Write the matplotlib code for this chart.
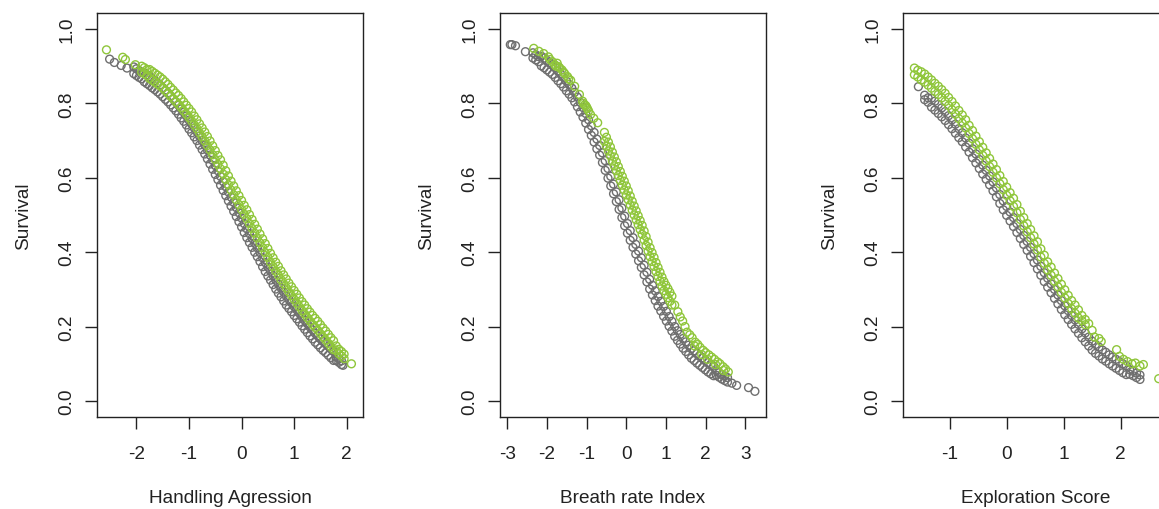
import matplotlib
matplotlib.use("Agg")
import matplotlib.pyplot as plt

plt.rcParams['font.family'] = ['Liberation Sans', 'DejaVu Sans']

# ---- Panel 1: Handling Agression ----
# gray band (top edge / bottom edge of the ribbon) + loose points
hand_gray_x = [-2.05, -2.00, -1.95, -1.90, -1.85, -1.80, -1.75, -1.70, -1.65, -1.60, -1.55, -1.50,
               -1.45, -1.40, -1.35, -1.30, -1.25, -1.20, -1.15, -1.10, -1.05, -1.00, -0.95, -0.90,
               -0.85, -0.80, -0.75, -0.70, -0.65, -0.60, -0.55, -0.50, -0.45, -0.40, -0.35, -0.30,
               -0.25, -0.20, -0.15, -0.10, -0.05, 0.00, 0.05, 0.10, 0.15, 0.20, 0.25, 0.30, 0.35,
               0.40, 0.45, 0.50, 0.55, 0.60, 0.65, 0.70, 0.75, 0.80, 0.85, 0.90, 0.95, 1.00, 1.05,
               1.10, 1.15, 1.20, 1.25, 1.30, 1.35, 1.40, 1.45, 1.50, 1.55, 1.60, 1.65, 1.70, 1.75,
               1.80, 1.85, 1.90]
hand_gray_top = [0.898, 0.893, 0.888, 0.884, 0.882, 0.877, 0.872, 0.866, 0.861, 0.855, 0.849, 0.842,
                 0.835, 0.828, 0.820, 0.812, 0.804, 0.795, 0.785, 0.776, 0.766, 0.755, 0.745, 0.734,
                 0.724, 0.712, 0.700, 0.688, 0.675, 0.661, 0.647, 0.633, 0.619, 0.604, 0.590, 0.576,
                 0.562, 0.548, 0.534, 0.520, 0.506, 0.492, 0.477, 0.463, 0.450, 0.437, 0.424, 0.412,
                 0.399, 0.385, 0.372, 0.360, 0.349, 0.337, 0.325, 0.314, 0.304, 0.293, 0.282, 0.273,
                 0.264, 0.254, 0.245, 0.236, 0.226, 0.217, 0.208, 0.199, 0.191, 0.182, 0.175, 0.167,
                 0.160, 0.154, 0.147, 0.140, 0.133, 0.119, 0.114, 0.108]
hand_gray_bot = [0.880, 0.875, 0.870, 0.866, 0.858, 0.853, 0.848, 0.842, 0.837, 0.831, 0.825, 0.818,
                 0.811, 0.804, 0.796, 0.788, 0.780, 0.771, 0.761, 0.752, 0.742, 0.731, 0.721, 0.710,
                 0.700, 0.688, 0.676, 0.664, 0.651, 0.637, 0.623, 0.609, 0.595, 0.580, 0.566, 0.552,
                 0.538, 0.524, 0.510, 0.496, 0.482, 0.468, 0.453, 0.439, 0.426, 0.413, 0.400, 0.388,
                 0.375, 0.361, 0.348, 0.336, 0.325, 0.313, 0.301, 0.290, 0.280, 0.269, 0.258, 0.249,
                 0.240, 0.230, 0.221, 0.212, 0.202, 0.193, 0.184, 0.175, 0.167, 0.158, 0.151, 0.143,
                 0.136, 0.130, 0.123, 0.116, 0.109, 0.109, 0.104, 0.098]
hand_gray_loose_x = [-2.51, -2.42, -2.29, -2.18, 1.93]
hand_gray_loose_y = [0.919, 0.910, 0.902, 0.895, 0.096]

hand_green_x = [-1.90, -1.85, -1.80, -1.75, -1.70, -1.65, -1.60, -1.55, -1.50, -1.45, -1.40, -1.35,
                -1.30, -1.25, -1.20, -1.15, -1.10, -1.05, -1.00, -0.95, -0.90, -0.85, -0.80, -0.75,
                -0.70, -0.65, -0.60, -0.55, -0.50, -0.45, -0.40, -0.35, -0.30, -0.25, -0.20, -0.15,
                -0.10, -0.05, 0.00, 0.05, 0.10, 0.15, 0.20, 0.25, 0.30, 0.35, 0.40, 0.45, 0.50, 0.55,
                0.60, 0.65, 0.70, 0.75, 0.80, 0.85, 0.90, 0.95, 1.00, 1.05, 1.10, 1.15, 1.20, 1.25,
                1.30, 1.35, 1.40, 1.45, 1.50, 1.55, 1.60, 1.65, 1.70, 1.75, 1.80, 1.85, 1.90, 1.95]
hand_green_top = [0.900, 0.896, 0.891, 0.891, 0.886, 0.881, 0.876, 0.871, 0.865, 0.858, 0.851, 0.843,
                  0.836, 0.828, 0.821, 0.813, 0.804, 0.795, 0.786, 0.777, 0.766, 0.756, 0.745, 0.734,
                  0.723, 0.711, 0.699, 0.686, 0.673, 0.660, 0.648, 0.634, 0.619, 0.605, 0.591, 0.578,
                  0.565, 0.552, 0.539, 0.526, 0.514, 0.501, 0.488, 0.475, 0.462, 0.449, 0.436, 0.423,
                  0.410, 0.397, 0.385, 0.373, 0.362, 0.350, 0.339, 0.328, 0.317, 0.307, 0.297, 0.287,
                  0.277, 0.267, 0.258, 0.248, 0.239, 0.230, 0.222, 0.214, 0.205, 0.196, 0.188, 0.179,
                  0.170, 0.162, 0.148, 0.139, 0.133, 0.126]
hand_green_bot = [0.884, 0.880, 0.875, 0.867, 0.862, 0.857, 0.852, 0.847, 0.841, 0.834, 0.827, 0.819,
                  0.812, 0.804, 0.797, 0.789, 0.780, 0.771, 0.762, 0.753, 0.742, 0.732, 0.721, 0.710,
                  0.699, 0.687, 0.675, 0.662, 0.649, 0.636, 0.624, 0.610, 0.595, 0.581, 0.567, 0.554,
                  0.541, 0.528, 0.515, 0.502, 0.490, 0.477, 0.464, 0.451, 0.438, 0.425, 0.412, 0.399,
                  0.386, 0.373, 0.361, 0.349, 0.338, 0.326, 0.315, 0.304, 0.293, 0.283, 0.273, 0.263,
                  0.253, 0.243, 0.234, 0.224, 0.215, 0.206, 0.198, 0.190, 0.181, 0.172, 0.164, 0.155,
                  0.146, 0.138, 0.136, 0.127, 0.121, 0.114]
hand_green_loose_x = [-2.57, -2.26, -2.21, -2.02, 2.09]
hand_green_loose_y = [0.944, 0.924, 0.918, 0.904, 0.100]

# ---- Panel 2: Breath rate Index ----
breath_gray_x = [-2.35, -2.28, -2.21, -2.14, -2.07, -2.00, -1.93, -1.86, -1.79, -1.72, -1.65, -1.58,
                 -1.51, -1.44, -1.37, -1.30, -1.23, -1.16, -1.09, -1.02, -0.95, -0.88, -0.81, -0.74,
                 -0.67, -0.60, -0.53, -0.46, -0.39, -0.32, -0.25, -0.18, -0.11, -0.04, 0.03, 0.10,
                 0.17, 0.24, 0.31, 0.38, 0.45, 0.52, 0.59, 0.66, 0.73, 0.80, 0.87, 0.94, 1.01, 1.08,
                 1.15, 1.22, 1.29, 1.36, 1.43, 1.50, 1.57, 1.64, 1.71, 1.78, 1.85, 1.92, 1.99, 2.06,
                 2.13, 2.20, 2.27, 2.34, 2.41, 2.48, 2.55]
breath_gray_top = [0.936, 0.931, 0.926, 0.927, 0.922, 0.916, 0.910, 0.904, 0.896, 0.887, 0.879, 0.870,
                   0.860, 0.851, 0.841, 0.830, 0.817, 0.803, 0.789, 0.773, 0.756, 0.740, 0.722, 0.704,
                   0.687, 0.667, 0.646, 0.625, 0.604, 0.583, 0.562, 0.541, 0.519, 0.497, 0.477, 0.458,
                   0.439, 0.421, 0.403, 0.385, 0.365, 0.346, 0.327, 0.311, 0.296, 0.281, 0.268, 0.254,
                   0.241, 0.227, 0.214, 0.200, 0.189, 0.179, 0.168, 0.159, 0.150, 0.141, 0.135, 0.128,
                   0.122, 0.116, 0.110, 0.104, 0.099, 0.094, 0.081, 0.076, 0.071, 0.067, 0.063]
breath_gray_bot = [0.922, 0.917, 0.912, 0.901, 0.896, 0.890, 0.884, 0.878, 0.870, 0.861, 0.853, 0.844,
                   0.834, 0.825, 0.815, 0.804, 0.791, 0.777, 0.763, 0.747, 0.730, 0.714, 0.696, 0.678,
                   0.661, 0.641, 0.620, 0.599, 0.578, 0.557, 0.536, 0.515, 0.493, 0.471, 0.451, 0.432,
                   0.413, 0.395, 0.377, 0.359, 0.339, 0.320, 0.301, 0.285, 0.270, 0.255, 0.242, 0.228,
                   0.215, 0.201, 0.188, 0.174, 0.163, 0.153, 0.142, 0.133, 0.124, 0.115, 0.109, 0.102,
                   0.096, 0.090, 0.084, 0.078, 0.073, 0.068, 0.069, 0.064, 0.059, 0.055, 0.051]
breath_gray_loose_x = [-2.92, -2.88, -2.79, -2.54, 2.66, 2.78, 3.08, 3.24]
breath_gray_loose_y = [0.958, 0.958, 0.955, 0.939, 0.048, 0.042, 0.036, 0.026]

breath_green_x = [-0.55, -0.50, -0.45, -0.40, -0.35, -0.30, -0.25, -0.20, -0.15, -0.10, -0.05, 0.00,
                  0.05, 0.10, 0.15, 0.20, 0.25, 0.30, 0.35, 0.40, 0.45, 0.50, 0.55, 0.60, 0.65, 0.70,
                  0.75, 0.80, 0.85, 0.90, 0.95, 1.00, 1.05, 1.10, 1.15]
breath_green_top = [0.722, 0.709, 0.696, 0.683, 0.669, 0.656, 0.643, 0.630, 0.617, 0.604, 0.591, 0.578,
                    0.565, 0.551, 0.537, 0.524, 0.511, 0.498, 0.485, 0.472, 0.457, 0.442, 0.427, 0.412,
                    0.399, 0.386, 0.372, 0.359, 0.346, 0.333, 0.321, 0.311, 0.302, 0.292, 0.282]
breath_green_bot = [0.698, 0.685, 0.672, 0.659, 0.645, 0.632, 0.619, 0.606, 0.593, 0.580, 0.567, 0.554,
                    0.541, 0.527, 0.513, 0.500, 0.487, 0.474, 0.461, 0.448, 0.433, 0.418, 0.403, 0.388,
                    0.375, 0.362, 0.348, 0.335, 0.322, 0.309, 0.297, 0.287, 0.278, 0.268, 0.258]
breath_green_loose_x = [-2.33, -2.20, -2.08, -1.96, -1.92, -1.86, -1.80, -1.77, -1.74, -1.71, -1.68,
                        -1.62, -1.58, -1.55, -1.48, -1.45, -1.40, -1.30, -1.18, -1.10, -1.08, -1.05,
                        -1.02, -1.00, -0.98, -0.95, -0.90, -0.82, -0.72,
                        1.22, 1.30, 1.36, 1.42, 1.48, 1.53, 1.60, 1.66, 1.72, 1.74, 1.80, 1.86, 1.90,
                        1.94, 2.00, 2.05, 2.08, 2.15, 2.22, 2.25, 2.30, 2.36, 2.44, 2.45, 2.50, 2.57]
breath_green_loose_y = [0.948, 0.940, 0.934, 0.925, 0.918, 0.912, 0.904, 0.900, 0.908, 0.899, 0.896,
                        0.890, 0.884, 0.880, 0.872, 0.866, 0.862, 0.846, 0.824, 0.806, 0.800, 0.796,
                        0.794, 0.790, 0.786, 0.780, 0.770, 0.760, 0.748,
                        0.258, 0.240, 0.226, 0.215, 0.200, 0.185, 0.178, 0.170, 0.148, 0.158, 0.152,
                        0.144, 0.125, 0.136, 0.130, 0.112, 0.124, 0.118, 0.112, 0.098, 0.105, 0.100,
                        0.092, 0.082, 0.086, 0.078]

# ---- Panel 3: Exploration Score ----
explo_gray_x = [-1.44, -1.38, -1.32, -1.26, -1.20, -1.14, -1.08, -1.02, -0.96, -0.90, -0.84, -0.78,
                -0.72, -0.66, -0.60, -0.54, -0.48, -0.42, -0.36, -0.30, -0.24, -0.18, -0.12, -0.06,
                0.00, 0.06, 0.12, 0.18, 0.24, 0.30, 0.36, 0.42, 0.48, 0.54, 0.60, 0.66, 0.72, 0.78,
                0.84, 0.90, 0.96, 1.02, 1.08, 1.14, 1.20, 1.26, 1.32, 1.38, 1.44, 1.50, 1.56, 1.62,
                1.68, 1.74, 1.80, 1.86, 1.92, 1.98, 2.04, 2.10, 2.16, 2.22, 2.28, 2.34]
explo_gray_top = [0.822, 0.815, 0.814, 0.806, 0.797, 0.788, 0.778, 0.767, 0.756, 0.744, 0.732, 0.721,
                  0.707, 0.693, 0.678, 0.664, 0.649, 0.634, 0.620, 0.605, 0.589, 0.573, 0.555, 0.538,
                  0.523, 0.508, 0.493, 0.477, 0.461, 0.445, 0.429, 0.413, 0.396, 0.379, 0.362, 0.345,
                  0.330, 0.315, 0.300, 0.285, 0.270, 0.256, 0.243, 0.230, 0.218, 0.206, 0.194, 0.183,
                  0.172, 0.161, 0.152, 0.145, 0.137, 0.131, 0.124, 0.118, 0.112, 0.106, 0.100, 0.095,
                  0.084, 0.080, 0.075, 0.070]
explo_gray_bot = [0.810, 0.803, 0.790, 0.782, 0.773, 0.764, 0.754, 0.743, 0.732, 0.720, 0.708, 0.697,
                  0.683, 0.669, 0.654, 0.640, 0.625, 0.610, 0.596, 0.581, 0.565, 0.549, 0.531, 0.514,
                  0.499, 0.484, 0.469, 0.453, 0.437, 0.421, 0.405, 0.389, 0.372, 0.355, 0.338, 0.321,
                  0.306, 0.291, 0.276, 0.261, 0.246, 0.232, 0.219, 0.206, 0.194, 0.182, 0.170, 0.159,
                  0.148, 0.137, 0.128, 0.121, 0.113, 0.107, 0.100, 0.094, 0.088, 0.082, 0.076, 0.071,
                  0.072, 0.068, 0.063, 0.058]
explo_gray_loose_x = [-1.55]
explo_gray_loose_y = [0.845]

explo_green_x = [-1.62, -1.56, -1.50, -1.44, -1.38, -1.32, -1.26, -1.20, -1.14, -1.08, -1.02, -0.96,
                 -0.90, -0.84, -0.78, -0.72, -0.66, -0.60, -0.54, -0.48, -0.42, -0.36, -0.30, -0.24,
                 -0.18, -0.12, -0.06, 0.00, 0.06, 0.12, 0.18, 0.24, 0.30, 0.36, 0.42, 0.48, 0.54,
                 0.60, 0.66, 0.72, 0.78, 0.84, 0.90, 0.96, 1.02, 1.08, 1.14, 1.20, 1.26, 1.32, 1.38]
explo_green_top = [0.895, 0.889, 0.885, 0.879, 0.871, 0.863, 0.854, 0.846, 0.837, 0.827, 0.816, 0.805,
                   0.793, 0.781, 0.769, 0.756, 0.741, 0.727, 0.712, 0.697, 0.682, 0.667, 0.652, 0.637,
                   0.622, 0.606, 0.590, 0.575, 0.560, 0.545, 0.528, 0.510, 0.493, 0.477, 0.461, 0.444,
                   0.428, 0.409, 0.392, 0.374, 0.360, 0.344, 0.329, 0.314, 0.299, 0.284, 0.270, 0.258,
                   0.245, 0.230, 0.219]
explo_green_bot = [0.877, 0.871, 0.863, 0.857, 0.849, 0.841, 0.832, 0.824, 0.815, 0.805, 0.794, 0.783,
                   0.771, 0.759, 0.747, 0.734, 0.719, 0.705, 0.690, 0.675, 0.660, 0.645, 0.630, 0.615,
                   0.600, 0.584, 0.568, 0.553, 0.538, 0.523, 0.506, 0.488, 0.471, 0.455, 0.439, 0.422,
                   0.406, 0.387, 0.370, 0.352, 0.338, 0.322, 0.307, 0.292, 0.277, 0.262, 0.248, 0.236,
                   0.223, 0.216, 0.205]
explo_green_loose_x = [1.44, 1.50, 1.54, 1.62, 1.66, 1.93, 1.98, 2.05, 2.12, 2.20, 2.26, 2.34, 2.40, 2.67]
explo_green_loose_y = [0.208, 0.190, 0.172, 0.168, 0.160, 0.138, 0.120, 0.112, 0.106, 0.100, 0.102,
                       0.094, 0.098, 0.060]

x_labels = ['Handling Agression', 'Breath rate Index', 'Exploration Score']
x_ticks = [[-2, -1, 0, 1, 2], [-3, -2, -1, 0, 1, 2, 3], [-1, 0, 1, 2]]
x_limits = [(-2.75, 2.31), (-3.18, 3.52), (-1.82, 2.85)]
y_ticks = [0.0, 0.2, 0.4, 0.6, 0.8, 1.0]

panels = [
    [(hand_gray_x, hand_gray_top), (hand_gray_x, hand_gray_bot), (hand_gray_loose_x, hand_gray_loose_y),
     (hand_green_x, hand_green_top), (hand_green_x, hand_green_bot), (hand_green_loose_x, hand_green_loose_y)],
    [(breath_gray_x, breath_gray_top), (breath_gray_x, breath_gray_bot), (breath_gray_loose_x, breath_gray_loose_y),
     (breath_green_x, breath_green_top), (breath_green_x, breath_green_bot), (breath_green_loose_x, breath_green_loose_y)],
    [(explo_gray_x, explo_gray_top), (explo_gray_x, explo_gray_bot), (explo_gray_loose_x, explo_gray_loose_y),
     (explo_green_x, explo_green_top), (explo_green_x, explo_green_bot), (explo_green_loose_x, explo_green_loose_y)],
]

GRAY = '#6f6f6f'
GREEN = '#8fc63a'
INK = '#222222'
FS = 13.7

fig = plt.figure(figsize=(11.59, 5.10), dpi=100)
lefts = [97 / 1159, 500 / 1159, 903 / 1159]

for i, series in enumerate(panels):
    ax = fig.add_axes([lefts[i], 92 / 510, 266 / 1159, 404 / 510])
    for j, (xs, ys) in enumerate(series):
        col = GRAY if j < 3 else GREEN
        ax.scatter(xs, ys, s=32, facecolors='none', edgecolors=col, linewidths=1.0)
    ax.set_xlim(*x_limits[i])
    ax.set_ylim(-0.043, 1.043)
    ax.set_xticks(x_ticks[i])
    ax.set_xticklabels([str(t) for t in x_ticks[i]])
    ax.set_yticks(y_ticks)
    ax.set_yticklabels(['%.1f' % t for t in y_ticks], rotation=90, va='center')
    ax.tick_params(direction='out', length=8.5, width=1, labelsize=FS, colors=INK)
    ax.tick_params(axis='x', pad=12)
    ax.tick_params(axis='y', pad=7)
    for s in ax.spines.values():
        s.set_linewidth(1.0)
        s.set_color(INK)
    ax.set_xlabel(x_labels[i], fontsize=FS, color=INK)
    ax.set_ylabel('Survival', fontsize=FS, color=INK)
    ax.xaxis.set_label_coords(0.5, -0.178)
    ax.yaxis.set_label_coords(-0.244, 0.5)

fig.savefig('out.png', dpi=100)
